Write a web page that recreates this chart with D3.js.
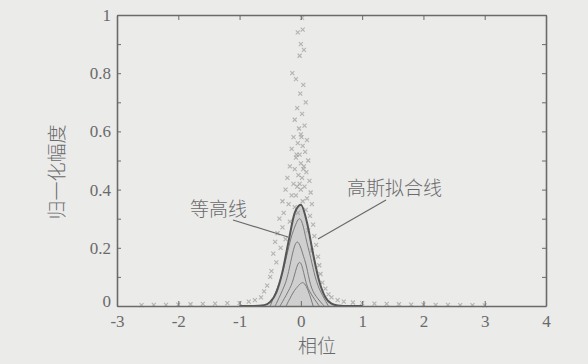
<!DOCTYPE html>
<html>
<head>
<meta charset="utf-8">
<script src="https://cdn.jsdelivr.net/npm/d3@7"></script>
<style>
  body { margin: 0; background: #ebebea; }
  text { fill: #6a6a6a; }
</style>
</head>
<body>
<div id="chart"></div>
<script>
// axis ticks
const xTicks = [-3, -2, -1, 0, 1, 2, 3, 4];
const yTicks = [0, 0.1, 0.2, 0.3, 0.4, 0.5, 0.6, 0.7, 0.8, 0.9, 1];
const yLabels = [0, 0.2, 0.4, 0.6, 0.8, 1];

// scatter samples (phase, normalized amplitude)
const phaseX = [0.02, 0.03, -0.05, 0.0, 0.05, -0.02, -0.14, -0.08, 0.04, -0.01, 0.08, -0.06, 0.02, -0.1, 0.06,
  -0.03, 0.0, -0.12, 0.1, -0.05, 0.03, -0.15, 0.07, -0.02, -0.08, 0.12, 0.0, -0.18, 0.05, -0.1, 0.09, -0.04,
  -0.22, 0.02, 0.14, -0.12, -0.06, 0.06, -0.25, 0.0, 0.16, -0.15, -0.08, 0.1, -0.3, 0.03, -0.2, 0.18, -0.1,
  0.08, -0.28, -0.05, 0.15, -0.35, -0.18, 0.2, -0.3, 0.12, -0.38, 0.22, -0.25, -0.42, 0.25, -0.33, 0.18,
  -0.45, 0.28, -0.4, 0.3, -0.48, 0.32, -0.5, 0.35, -0.55, 0.4, -0.6, 0.45, -0.65, 0.5, -0.75, 0.6, -0.85,
  0.7, -1.0, 0.85, -1.2, 1.0, -1.4, 1.2, -1.6, 1.4, -1.8, 1.6, -2.0, 1.8, -2.2, 2.0, -2.4, 2.2, -2.6, 2.4,
  2.6, 2.8, 3.0, -0.02, 0.04, -0.07, 0.01];
const ampY = [0.99, 0.95, 0.94, 0.90, 0.88, 0.86, 0.80, 0.78, 0.76, 0.73, 0.70, 0.68, 0.66, 0.64, 0.62,
  0.61, 0.59, 0.58, 0.57, 0.56, 0.55, 0.54, 0.53, 0.52, 0.51, 0.50, 0.49, 0.48, 0.48, 0.47, 0.46, 0.45,
  0.44, 0.44, 0.43, 0.42, 0.41, 0.41, 0.40, 0.40, 0.39, 0.38, 0.38, 0.37, 0.36, 0.36, 0.35, 0.35, 0.34,
  0.33, 0.32, 0.32, 0.31, 0.30, 0.29, 0.28, 0.27, 0.26, 0.25, 0.24, 0.23, 0.22, 0.21, 0.20, 0.19,
  0.18, 0.17, 0.15, 0.14, 0.12, 0.11, 0.10, 0.08, 0.07, 0.06, 0.05, 0.04, 0.03, 0.03, 0.02, 0.02, 0.015,
  0.015, 0.01, 0.012, 0.01, 0.01, 0.008, 0.008, 0.007, 0.007, 0.006, 0.006, 0.005, 0.005, 0.004, 0.005, 0.004, 0.004, 0.003, 0.004,
  0.003, 0.003, 0.002, 0.42, 0.47, 0.52, 0.58];

// gaussian fit line
const fitX = [-1.0, -0.8, -0.6, -0.5, -0.4, -0.3, -0.2, -0.1, 0.0, 0.1, 0.2, 0.3, 0.4, 0.5, 0.6, 0.8, 1.0];
const fitY = [0.0, 0.0, 0.003, 0.014, 0.047, 0.118, 0.223, 0.320, 0.348, 0.287, 0.179, 0.085, 0.030, 0.008, 0.002, 0.0, 0.0];

// contour lines
const contourX = [
  [-0.5, -0.32, -0.12, -0.02, 0.12, 0.28, 0.45],
  [-0.42, -0.25, -0.06, 0.06, 0.2, 0.38],
  [-0.34, -0.16, -0.02, 0.12, 0.3],
  [-0.24, -0.08, 0.04, 0.2]
];
const contourY = [
  [0.0, 0.1, 0.26, 0.3, 0.2, 0.07, 0.0],
  [0.0, 0.08, 0.22, 0.16, 0.05, 0.0],
  [0.0, 0.07, 0.15, 0.06, 0.0],
  [0.0, 0.06, 0.08, 0.0]
];

const W = 588, H = 364;
const margin = { top: 15, right: 42, bottom: 58, left: 117 };
const width = W - margin.left - margin.right;
const height = H - margin.top - margin.bottom;

const svg = d3.select("#chart").append("svg")
  .attr("width", W)
  .attr("height", H);

const g = svg.append("g")
  .attr("transform", "translate(" + margin.left + "," + margin.top + ")");

const x = d3.scaleLinear().domain([-3, 4]).range([0, width]);
const y = d3.scaleLinear().domain([0, 1]).range([height, 0]);

// gray mass under the fit
const area = d3.area()
  .x((d, i) => x(fitX[i]))
  .y0(y(0))
  .y1((d, i) => y(fitY[i]))
  .curve(d3.curveMonotoneX);
g.append("path")
  .datum(fitX)
  .attr("d", area)
  .attr("fill", "#bcbcbc")
  .attr("opacity", 0.6);

// scatter (small faint crosses)
const pts = g.selectAll(".pt")
  .data(phaseX)
  .enter().append("g")
  .attr("class", "pt")
  .attr("transform", (d, i) => "translate(" + x(d) + "," + y(ampY[i]) + ")");
pts.append("path")
  .attr("d", "M-2,-2L2,2M-2,2L2,-2")
  .attr("stroke", "#9c9c9c")
  .attr("stroke-width", 1.1)
  .attr("opacity", 0.7);

// contours
const cLine = d3.line()
  .x((d) => x(d[0]))
  .y((d) => y(d[1]))
  .curve(d3.curveCatmullRom);
contourX.forEach((xs, k) => {
  g.append("path")
    .datum(xs.map((v, i) => [v, contourY[k][i]]))
    .attr("d", cLine)
    .attr("fill", "none")
    .attr("stroke", "#7a7a7a")
    .attr("stroke-width", 1);
});

// fit line
const fitLine = d3.line()
  .x((d, i) => x(fitX[i]))
  .y((d, i) => y(fitY[i]))
  .curve(d3.curveMonotoneX);
g.append("path")
  .datum(fitX)
  .attr("d", fitLine)
  .attr("fill", "none")
  .attr("stroke", "#555")
  .attr("stroke-width", 2);

// axes, ticks pointing inward and mirrored
const tickFont = "'Liberation Serif', 'DejaVu Serif', serif";
const xAxisB = d3.axisBottom(x).tickValues(xTicks).tickSizeInner(-5).tickSizeOuter(0).tickPadding(9)
  .tickFormat((d) => String(d));
const xAxisT = d3.axisTop(x).tickValues(xTicks).tickSizeInner(-5).tickSizeOuter(0).tickFormat("");
const yAxisL = d3.axisLeft(y).tickValues(yTicks).tickSizeInner(-4).tickSizeOuter(0).tickPadding(6)
  .tickFormat((d) => yLabels.some((v) => Math.abs(v - d) < 1e-9) ? String(d) : "");
const yAxisR = d3.axisRight(y).tickValues(yTicks).tickSizeInner(-4).tickSizeOuter(0).tickFormat("");

g.append("g").attr("transform", "translate(0," + height + ")").call(xAxisB);
g.append("g").call(xAxisT);
g.append("g").call(yAxisL);
g.append("g").attr("transform", "translate(" + width + ",0)").call(yAxisR);

g.selectAll(".domain").attr("stroke", "#6a6a6a").attr("stroke-width", 1.6);
g.selectAll(".tick line").attr("stroke", "#6a6a6a");
g.selectAll(".tick text")
  .attr("font-family", tickFont)
  .style("font-family", tickFont)
  .style("font-size", "17px")
  .attr("fill", "#6a6a6a");
// nudge the 0 of the y axis up a bit, as in the figure
g.selectAll(".tick text").filter(function (d) { return d === 0 && this.getAttribute("x") < 0; })
  .attr("dy", "0.05em");

// axis titles
const cjk = "'Noto Sans CJK SC', sans-serif";
svg.append("text")
  .attr("x", 317)
  .attr("y", 353)
  .attr("text-anchor", "middle")
  .style("font-family", cjk)
  .style("font-size", "19px")
  .style("font-weight", 300)
  .text("相位");
svg.append("text")
  .attr("transform", "translate(64,172) rotate(-90)")
  .attr("text-anchor", "middle")
  .style("font-family", cjk)
  .style("font-size", "19px")
  .style("font-weight", 300)
  .text("归一化幅度");

// annotations
svg.append("text")
  .attr("x", 190).attr("y", 216)
  .style("font-family", cjk)
  .style("font-size", "19px")
  .style("font-weight", 300)
  .text("等高线");
svg.append("line")
  .attr("x1", 233).attr("y1", 220).attr("x2", 288).attr("y2", 237)
  .attr("stroke", "#6a6a6a").attr("stroke-width", 1.2);
svg.append("text")
  .attr("x", 347).attr("y", 195)
  .style("font-family", cjk)
  .style("font-size", "19px")
  .style("font-weight", 300)
  .text("高斯拟合线");
svg.append("line")
  .attr("x1", 386).attr("y1", 200).attr("x2", 318).attr("y2", 239)
  .attr("stroke", "#6a6a6a").attr("stroke-width", 1.2);
</script>
</body>
</html>
